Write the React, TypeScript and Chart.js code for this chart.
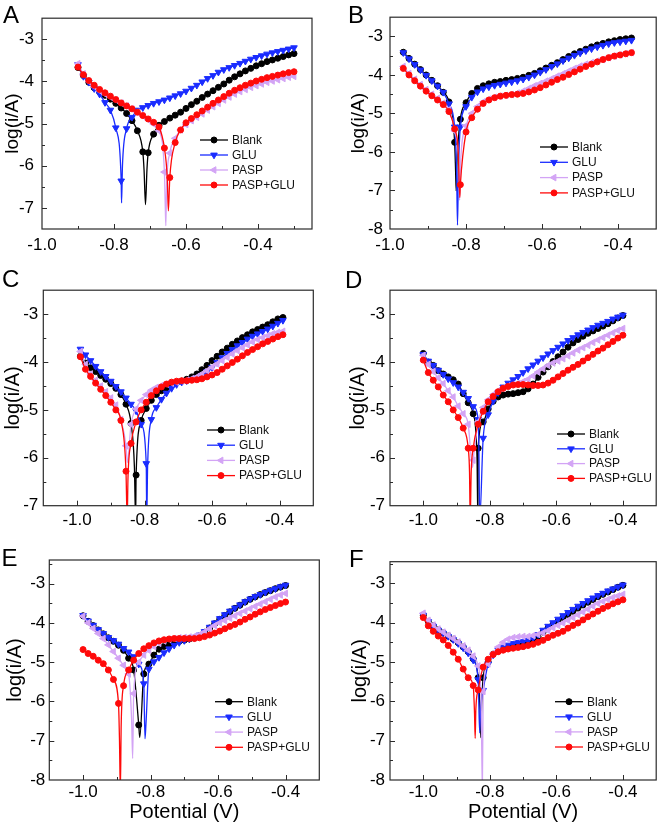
import React, { useEffect, useRef } from 'react';
import { Chart, registerables } from 'chart.js';

Chart.register(...registerables);

const FONT = "'Liberation Sans', Arial, Helvetica, sans-serif";

// ---------- series ----------
const seriesNames = ['Blank', 'GLU', 'PASP', 'PASP+GLU'];
const seriesColors = ['#000000', '#1a2cff', '#d3a4f5', '#ff0a0a'];

// ---------- Panel A ----------
const potA = [-0.900,-0.885,-0.870,-0.855,-0.840,-0.825,-0.810,-0.795,-0.780,-0.765,-0.750,-0.735,-0.720,-0.705,-0.690,-0.675,-0.660,-0.645,-0.630,-0.615,-0.600,-0.585,-0.570,-0.555,-0.540,-0.525,-0.510,-0.495,-0.480,-0.465,-0.450,-0.435,-0.420,-0.405,-0.390,-0.375,-0.360,-0.345,-0.330,-0.315,-0.300];
const blankA = [-3.67,-3.86,-4.02,-4.15,-4.25,-4.33,-4.42,-4.52,-4.63,-4.76,-4.93,-5.17,-5.67,-5.69,-5.25,-5.04,-4.95,-4.87,-4.80,-4.73,-4.64,-4.55,-4.47,-4.38,-4.30,-4.22,-4.14,-4.06,-3.97,-3.89,-3.82,-3.75,-3.69,-3.63,-3.58,-3.53,-3.49,-3.45,-3.41,-3.37,-3.34];
const gluA = [-3.60,-3.88,-4.02,-4.17,-4.30,-4.50,-4.68,-5.10,-6.36,-5.12,-4.85,-4.68,-4.62,-4.57,-4.52,-4.48,-4.44,-4.39,-4.34,-4.29,-4.23,-4.16,-4.09,-4.01,-3.93,-3.86,-3.78,-3.72,-3.67,-3.62,-3.57,-3.52,-3.47,-3.43,-3.39,-3.35,-3.32,-3.29,-3.26,-3.23,-3.20];
const paspA = [-3.58,-3.82,-4.00,-4.12,-4.22,-4.30,-4.37,-4.44,-4.51,-4.58,-4.65,-4.73,-4.82,-4.91,-5.01,-5.17,-6.15,-5.70,-5.35,-5.15,-5.02,-4.93,-4.85,-4.77,-4.68,-4.60,-4.52,-4.44,-4.37,-4.30,-4.24,-4.19,-4.14,-4.10,-4.06,-4.02,-3.99,-3.96,-3.93,-3.90,-3.88];
const paspGluA = [-3.66,-3.84,-3.98,-4.09,-4.19,-4.27,-4.35,-4.43,-4.51,-4.58,-4.65,-4.73,-4.81,-4.89,-4.97,-5.08,-5.58,-6.28,-5.45,-5.15,-4.98,-4.88,-4.79,-4.70,-4.61,-4.52,-4.44,-4.36,-4.28,-4.21,-4.15,-4.09,-4.04,-3.99,-3.95,-3.91,-3.88,-3.85,-3.82,-3.79,-3.77];
const blankADip = [[-0.7165,-6.1],[-0.7125,-6.92],[-0.7085,-6.1]];
const gluADip = [[-0.7790,-6.88],[-0.7765,-6.0]];
const paspADip = [[-0.6575,-7.0],[-0.6560,-7.42],[-0.6540,-6.5]];
const paspGluADip = [[-0.6520,-6.3],[-0.6490,-7.07]];
const xTicksA = [-1.0,-0.8,-0.6,-0.4];
const yTicksA = [-3,-4,-5,-6,-7];

// ---------- Panel B ----------
const potB = [-0.965,-0.950,-0.935,-0.920,-0.905,-0.890,-0.875,-0.860,-0.845,-0.830,-0.815,-0.800,-0.785,-0.770,-0.755,-0.740,-0.725,-0.710,-0.695,-0.680,-0.665,-0.650,-0.635,-0.620,-0.605,-0.590,-0.575,-0.560,-0.545,-0.530,-0.515,-0.500,-0.485,-0.470,-0.455,-0.440,-0.425,-0.410,-0.395,-0.380,-0.365];
const blankB = [-3.41,-3.57,-3.72,-3.86,-4.00,-4.14,-4.28,-4.45,-4.70,-5.75,-5.15,-4.72,-4.48,-4.35,-4.28,-4.23,-4.19,-4.17,-4.14,-4.12,-4.09,-4.06,-4.01,-3.96,-3.89,-3.82,-3.75,-3.68,-3.60,-3.52,-3.45,-3.39,-3.33,-3.27,-3.22,-3.18,-3.14,-3.11,-3.08,-3.06,-3.04];
const gluB = [-3.42,-3.58,-3.73,-3.87,-4.01,-4.15,-4.29,-4.45,-4.75,-5.35,-5.35,-4.82,-4.58,-4.44,-4.36,-4.31,-4.27,-4.24,-4.21,-4.18,-4.15,-4.11,-4.06,-4.00,-3.93,-3.86,-3.78,-3.71,-3.63,-3.56,-3.49,-3.43,-3.37,-3.32,-3.27,-3.23,-3.19,-3.16,-3.14,-3.12,-3.10];
const paspB = [-3.78,-3.96,-4.11,-4.25,-4.38,-4.50,-4.61,-4.73,-4.90,-5.45,null,-5.32,-5.00,-4.82,-4.70,-4.63,-4.58,-4.55,-4.53,-4.51,-4.47,-4.42,-4.35,-4.28,-4.22,-4.16,-4.10,-4.03,-3.97,-3.90,-3.83,-3.77,-3.72,-3.68,-3.64,-3.60,-3.55,-3.51,-3.48,-3.45,-3.42];
const paspGluB = [-3.83,-4.00,-4.15,-4.29,-4.42,-4.54,-4.65,-4.77,-4.95,-5.40,-6.85,-5.48,-5.11,-4.89,-4.74,-4.65,-4.59,-4.55,-4.53,-4.51,-4.50,-4.48,-4.44,-4.39,-4.33,-4.26,-4.19,-4.12,-4.06,-3.99,-3.92,-3.85,-3.78,-3.72,-3.66,-3.60,-3.55,-3.51,-3.48,-3.45,-3.42];
const blankBDip = [[-0.8275,-6.5],[-0.8260,-7.01],[-0.8240,-6.3]];
const gluBDip = [[-0.8250,-6.4],[-0.8225,-7.9],[-0.8200,-6.5]];
const paspBDip = [[-0.8195,-6.3],[-0.8170,-7.25],[-0.8145,-6.3]];
const paspGluBDip = [[-0.8205,-6.0],[-0.8165,-7.18]];
const xTicksB = [-1.0,-0.8,-0.6,-0.4];
const yTicksB = [-3,-4,-5,-6,-7,-8];

// ---------- Panel C ----------
const potC = [-0.990,-0.975,-0.960,-0.945,-0.930,-0.915,-0.900,-0.885,-0.870,-0.855,-0.840,-0.825,-0.810,-0.795,-0.780,-0.765,-0.750,-0.735,-0.720,-0.705,-0.690,-0.675,-0.660,-0.645,-0.630,-0.615,-0.600,-0.585,-0.570,-0.555,-0.540,-0.525,-0.510,-0.495,-0.480,-0.465,-0.450,-0.435,-0.420,-0.405,-0.390];
const blankC = [-3.88,-4.02,-4.12,-4.20,-4.28,-4.36,-4.45,-4.55,-4.68,-4.88,-5.28,-6.36,-5.22,-4.97,-4.80,-4.68,-4.60,-4.54,-4.48,-4.43,-4.40,-4.36,-4.31,-4.25,-4.16,-4.07,-3.97,-3.88,-3.79,-3.71,-3.63,-3.56,-3.49,-3.43,-3.37,-3.32,-3.27,-3.22,-3.16,-3.10,-3.07];
const gluC = [-3.73,-3.85,-3.97,-4.09,-4.20,-4.30,-4.40,-4.51,-4.62,-4.75,-4.88,-5.02,-5.30,-6.12,-5.20,-4.95,-4.78,-4.65,-4.55,-4.47,-4.42,-4.39,-4.36,-4.33,-4.28,-4.20,-4.11,-4.01,-3.91,-3.82,-3.74,-3.66,-3.59,-3.52,-3.46,-3.41,-3.36,-3.31,-3.25,-3.19,-3.13];
const paspC = [-3.78,-4.05,-4.25,-4.38,-4.50,-4.62,-4.75,-4.90,-5.20,-5.75,-5.30,-4.98,-4.80,-4.68,-4.59,-4.53,-4.49,-4.46,-4.44,-4.42,-4.40,-4.38,-4.35,-4.31,-4.25,-4.18,-4.11,-4.04,-3.97,-3.90,-3.83,-3.76,-3.70,-3.64,-3.58,-3.53,-3.49,-3.45,-3.41,-3.38,-3.36];
const paspGluC = [-3.89,-4.15,-4.30,-4.44,-4.57,-4.70,-4.84,-5.00,-5.22,-6.28,-5.70,-5.25,-5.00,-4.84,-4.70,-4.60,-4.52,-4.46,-4.42,-4.40,-4.39,-4.39,-4.38,-4.37,-4.35,-4.31,-4.27,-4.22,-4.15,-4.08,-4.01,-3.94,-3.87,-3.80,-3.74,-3.68,-3.62,-3.57,-3.52,-3.47,-3.43];
const blankCDip = [[-0.8300,-6.2],[-0.8265,-7.3]];
const gluCDip = [[-0.7935,-7.3],[-0.7910,-6.2]];
const paspCDip = [[-0.8510,-6.1]];
const paspGluCDip = [[-0.8515,-7.3],[-0.8490,-6.4]];
const xTicksC = [-1.0,-0.8,-0.6,-0.4];
const yTicksC = [-3,-4,-5,-6,-7];

// ---------- Panels D, E, F share the potential grid ----------
const potDEF = [-1.000,-0.985,-0.970,-0.955,-0.940,-0.925,-0.910,-0.895,-0.880,-0.865,-0.850,-0.835,-0.820,-0.805,-0.790,-0.775,-0.760,-0.745,-0.730,-0.715,-0.700,-0.685,-0.670,-0.655,-0.640,-0.625,-0.610,-0.595,-0.580,-0.565,-0.550,-0.535,-0.520,-0.505,-0.490,-0.475,-0.460,-0.445,-0.430,-0.415,-0.400];

// ---------- Panel D ----------
const blankD = [-3.82,-4.00,-4.07,-4.18,-4.25,-4.31,-4.37,-4.46,-4.66,-4.85,-5.08,-5.80,-5.25,-4.98,-4.82,-4.73,-4.69,-4.67,-4.66,-4.64,-4.62,-4.56,-4.46,-4.32,-4.21,-4.10,-3.99,-3.89,-3.79,-3.69,-3.60,-3.53,-3.46,-3.40,-3.35,-3.30,-3.25,-3.20,-3.14,-3.08,-3.03];
const gluD = [-3.84,-3.98,-4.07,-4.17,-4.26,-4.35,-4.43,-4.52,-4.63,-4.76,-4.93,-5.20,-5.59,-5.10,-4.82,-4.64,-4.52,-4.44,-4.37,-4.30,-4.22,-4.14,-4.06,-3.98,-3.91,-3.83,-3.76,-3.69,-3.62,-3.55,-3.49,-3.43,-3.38,-3.33,-3.28,-3.23,-3.19,-3.15,-3.10,-3.06,-3.02];
const paspD = [-3.86,-4.05,-4.20,-4.33,-4.45,-4.60,-4.73,-4.92,-5.08,-5.30,-6.05,-5.25,-4.95,-4.79,-4.68,-4.60,-4.54,-4.50,-4.47,-4.45,-4.41,-4.36,-4.29,-4.21,-4.14,-4.07,-4.02,-3.98,-3.93,-3.87,-3.81,-3.75,-3.70,-3.65,-3.59,-3.54,-3.49,-3.44,-3.39,-3.34,-3.30];
const paspGluD = [-3.96,-4.22,-4.38,-4.52,-4.69,-4.83,-5.00,-5.16,-5.38,-5.80,-5.80,-5.30,-5.03,-4.83,-4.72,-4.62,-4.55,-4.51,-4.48,-4.47,-4.47,-4.48,-4.49,-4.49,-4.48,-4.44,-4.38,-4.31,-4.24,-4.17,-4.11,-4.05,-3.98,-3.91,-3.84,-3.77,-3.71,-3.64,-3.57,-3.50,-3.44];
const blankDDip = [[-0.8385,-6.0],[-0.8360,-7.3]];
const gluDDip = [[-0.8325,-6.0],[-0.8305,-7.3]];
const paspDDip = [[-0.8520,-6.2]];
const paspGluDDip = [[-0.8610,-6.3],[-0.8590,-7.3],[-0.8560,-6.3]];
const xTicksD = [-1.0,-0.8,-0.6,-0.4];
const yTicksD = [-3,-4,-5,-6,-7];

// ---------- Panel E ----------
const blankE = [-3.82,-3.96,-4.07,-4.18,-4.28,-4.38,-4.47,-4.57,-4.70,-4.90,-5.20,-6.60,-5.30,-5.05,-4.82,-4.67,-4.60,-4.55,-4.51,-4.47,-4.44,-4.41,-4.38,-4.33,-4.24,-4.13,-4.02,-3.91,-3.81,-3.72,-3.63,-3.55,-3.47,-3.40,-3.34,-3.28,-3.23,-3.18,-3.13,-3.09,-3.05];
const gluE = [-3.81,-3.95,-4.06,-4.17,-4.27,-4.37,-4.45,-4.54,-4.65,-4.74,-4.86,-5.05,-5.55,-5.18,-4.99,-4.88,-4.76,-4.66,-4.57,-4.50,-4.45,-4.41,-4.37,-4.31,-4.22,-4.11,-4.00,-3.89,-3.79,-3.70,-3.62,-3.54,-3.46,-3.39,-3.33,-3.28,-3.22,-3.17,-3.13,-3.08,-3.04];
const paspE = [-3.83,-4.00,-4.14,-4.27,-4.40,-4.56,-4.73,-4.90,-5.08,-5.30,-5.80,-5.00,-4.82,-4.70,-4.60,-4.52,-4.46,-4.42,-4.40,-4.38,-4.37,-4.36,-4.34,-4.30,-4.23,-4.15,-4.07,-4.00,-3.94,-3.88,-3.82,-3.76,-3.70,-3.64,-3.58,-3.52,-3.46,-3.40,-3.34,-3.29,-3.25];
const paspGluE = [-4.68,-4.78,-4.85,-4.95,-5.04,-5.20,-5.44,-6.05,-5.60,-5.20,-4.95,-4.78,-4.66,-4.58,-4.51,-4.46,-4.43,-4.41,-4.40,-4.40,-4.40,-4.40,-4.40,-4.38,-4.35,-4.31,-4.26,-4.21,-4.15,-4.09,-4.04,-3.98,-3.91,-3.85,-3.78,-3.72,-3.66,-3.61,-3.56,-3.51,-3.47];
const blankEDip = [[-0.8320,-6.92]];
const gluEDip = [[-0.8165,-6.95],[-0.8135,-6.56]];
const paspEDip = [[-0.8560,-6.5],[-0.8530,-7.45]];
const paspGluEDip = [[-0.8920,-7.0],[-0.8895,-8.3],[-0.8870,-6.6]];
const xTicksE = [-1.0,-0.8,-0.6,-0.4];
const yTicksE = [-3,-4,-5,-6,-7,-8];

// ---------- Panel F ----------
const blankF = [-3.81,-3.97,-4.08,-4.18,-4.26,-4.34,-4.42,-4.51,-4.62,-4.74,-4.92,-5.40,-5.40,-5.00,-4.80,-4.72,-4.67,-4.64,-4.61,-4.59,-4.57,-4.54,-4.47,-4.36,-4.24,-4.13,-4.04,-3.96,-3.87,-3.79,-3.71,-3.63,-3.55,-3.48,-3.41,-3.34,-3.28,-3.22,-3.16,-3.10,-3.05];
const gluF = [-3.81,-3.97,-4.09,-4.19,-4.27,-4.35,-4.43,-4.53,-4.64,-4.77,-4.95,-5.45,-5.72,-5.05,-4.82,-4.70,-4.62,-4.57,-4.53,-4.50,-4.48,-4.45,-4.39,-4.30,-4.19,-4.09,-4.00,-3.91,-3.82,-3.74,-3.66,-3.58,-3.51,-3.44,-3.37,-3.31,-3.25,-3.19,-3.14,-3.09,-3.04];
const paspF = [-3.76,-3.94,-4.06,-4.16,-4.24,-4.32,-4.40,-4.49,-4.59,-4.70,-4.85,-5.10,-5.75,-5.05,-4.78,-4.62,-4.50,-4.42,-4.38,-4.36,-4.35,-4.35,-4.33,-4.30,-4.26,-4.20,-4.13,-4.07,-4.01,-3.94,-3.87,-3.80,-3.73,-3.66,-3.58,-3.51,-3.46,-3.41,-3.36,-3.32,-3.28];
const paspGluF = [-3.87,-4.08,-4.22,-4.34,-4.44,-4.58,-4.75,-4.93,-5.18,-5.40,-5.60,-5.71,-5.13,-4.93,-4.81,-4.74,-4.70,-4.67,-4.65,-4.63,-4.61,-4.58,-4.55,-4.50,-4.45,-4.38,-4.32,-4.27,-4.22,-4.14,-4.07,-4.01,-3.93,-3.85,-3.78,-3.71,-3.64,-3.58,-3.52,-3.47,-3.42];
const blankFDip = [[-0.8295,-6.2],[-0.8270,-6.92],[-0.8245,-6.1]];
const gluFDip = [[-0.8305,-6.8],[-0.8275,-6.2]];
const paspFDip = [[-0.8260,-6.0],[-0.8225,-8.3]];
const paspGluFDip = [[-0.8460,-6.3],[-0.8440,-6.94],[-0.8420,-6.2]];
const xTicksF = [-1.0,-0.8,-0.6,-0.4];
const yTicksF = [-3,-4,-5,-6,-7,-8];

// ---------- styling ----------
const markerStyles = [
  { shape: 'circle', rotation: 0, radius: 3 },
  { shape: 'triangle', rotation: 180, radius: 3.8 },
  { shape: 'triangle', rotation: -90, radius: 3.8 },
  { shape: 'circle', rotation: 0, radius: 3 },
];

type Panel = {
  letter: string;
  left: number; top: number; w: number; h: number;
  padTop: number; padRight: number; yW: number; xH: number;
  xMin: number; xMax: number; yMin: number; yMax: number;
  xTicks: number[]; yTicks: number[];
  pot: number[];
  series: { vals: (number | null)[]; dip: number[][] }[];
  yTitleSize: number; yTitlePad: number; yTickPad: number; xTickPad: number;
  xTitle: boolean; xTitlePad: number;
  legend: { x: number; y: number; dy: number };
  letterPos: { left: number; top: number };
};

const panels: Panel[] = [
  {
    letter: 'A', left: 0, top: 0, w: 330, h: 275, padTop: 13, padRight: 18, yW: 42, xH: 46,
    xMin: -1.0, xMax: -0.25, yMin: -7.5, yMax: -2.5, xTicks: xTicksA, yTicks: yTicksA, pot: potA,
    series: [{ vals: blankA, dip: blankADip }, { vals: gluA, dip: gluADip }, { vals: paspA, dip: paspADip }, { vals: paspGluA, dip: paspGluADip }],
    yTitleSize: 19, yTitlePad: 1, yTickPad: 8, xTickPad: 6, xTitle: false, xTitlePad: 0,
    legend: { x: 200, y: 140, dy: 15 }, letterPos: { left: 3, top: 3 },
  },
  {
    letter: 'B', left: 330, top: 0, w: 331, h: 275, padTop: 13, padRight: 1, yW: 60, xH: 46,
    xMin: -1.0, xMax: -0.3, yMin: -8, yMax: -2.5, xTicks: xTicksB, yTicks: yTicksB, pot: potB,
    series: [{ vals: blankB, dip: blankBDip }, { vals: gluB, dip: gluBDip }, { vals: paspB, dip: paspBDip }, { vals: paspGluB, dip: paspGluBDip }],
    yTitleSize: 19, yTitlePad: 17, yTickPad: 7, xTickPad: 6, xTitle: false, xTitlePad: 0,
    legend: { x: 210, y: 147, dy: 15.3 }, letterPos: { left: 348, top: 3 },
  },
  {
    letter: 'C', left: 0, top: 275, w: 330, h: 270, padTop: 15, padRight: 16.7, yW: 43.3, xH: 39.3,
    xMin: -1.1, xMax: -0.3, yMin: -7, yMax: -2.5, xTicks: xTicksC, yTicks: yTicksC, pot: potC,
    series: [{ vals: blankC, dip: blankCDip }, { vals: gluC, dip: gluCDip }, { vals: paspC, dip: paspCDip }, { vals: paspGluC, dip: paspGluCDip }],
    yTitleSize: 20, yTitlePad: 1.3, yTickPad: 5, xTickPad: 4.5, xTitle: false, xTitlePad: 0,
    legend: { x: 207, y: 155, dy: 15.2 }, letterPos: { left: 2, top: 267 },
  },
  {
    letter: 'D', left: 330, top: 275, w: 331, h: 270, padTop: 15, padRight: 1, yW: 60, xH: 39.3,
    xMin: -1.1, xMax: -0.3, yMin: -7, yMax: -2.5, xTicks: xTicksD, yTicks: yTicksD, pot: potDEF,
    series: [{ vals: blankD, dip: blankDDip }, { vals: gluD, dip: gluDDip }, { vals: paspD, dip: paspDDip }, { vals: paspGluD, dip: paspGluDDip }],
    yTitleSize: 20, yTitlePad: 16.3, yTickPad: 5, xTickPad: 4.5, xTitle: false, xTitlePad: 0,
    legend: { x: 227, y: 159, dy: 14.8 }, letterPos: { left: 345, top: 268 },
  },
  {
    letter: 'E', left: 0, top: 545, w: 330, h: 281, padTop: 15, padRight: 10.7, yW: 49.3, xH: 46,
    xMin: -1.1, xMax: -0.3, yMin: -8, yMax: -2.4, xTicks: xTicksE, yTicks: yTicksE, pot: potDEF,
    series: [{ vals: blankE, dip: blankEDip }, { vals: gluE, dip: gluEDip }, { vals: paspE, dip: paspEDip }, { vals: paspGluE, dip: paspGluEDip }],
    yTitleSize: 20, yTitlePad: 3, yTickPad: 4, xTickPad: 2.5, xTitle: true, xTitlePad: 1.5,
    legend: { x: 215, y: 156.7, dy: 15.2 }, letterPos: { left: 1.5, top: 546 },
  },
  {
    letter: 'F', left: 330, top: 545, w: 331, h: 281, padTop: 16.7, padRight: 1, yW: 60, xH: 46,
    xMin: -1.1, xMax: -0.3, yMin: -8, yMax: -2.45, xTicks: xTicksF, yTicks: yTicksF, pot: potDEF,
    series: [{ vals: blankF, dip: blankFDip }, { vals: gluF, dip: gluFDip }, { vals: paspF, dip: paspFDip }, { vals: paspGluF, dip: paspGluFDip }],
    yTitleSize: 20, yTitlePad: 18, yTickPad: 5, xTickPad: 2.5, xTitle: true, xTitlePad: 1.5,
    legend: { x: 225, y: 156.7, dy: 15.1 }, letterPos: { left: 349, top: 547 },
  },
];

function buildPoints(pot: number[], vals: (number | null)[], dip: number[][]) {
  const pts: { x: number; y: number; m: boolean }[] = [];
  vals.forEach((v, i) => {
    if (v !== null && i < pot.length) pts.push({ x: pot[i], y: v, m: true });
  });
  dip.forEach(([x, y]) => pts.push({ x, y, m: false }));
  pts.sort((a, b) => a.x - b.x);
  return pts;
}

function drawMarker(ctx: CanvasRenderingContext2D, idx: number, x: number, y: number) {
  const st = markerStyles[idx];
  const color = seriesColors[idx];
  ctx.save();
  ctx.fillStyle = color;
  ctx.strokeStyle = color;
  ctx.lineWidth = 1;
  ctx.beginPath();
  if (st.shape === 'circle') {
    ctx.arc(x, y, st.radius, 0, Math.PI * 2);
  } else {
    let rad = (st.rotation * Math.PI) / 180;
    for (let k = 0; k < 3; k++) {
      const px = x + Math.sin(rad) * st.radius;
      const py = y - Math.cos(rad) * st.radius;
      if (k === 0) ctx.moveTo(px, py); else ctx.lineTo(px, py);
      rad += (2 * Math.PI) / 3;
    }
    ctx.closePath();
  }
  ctx.fill();
  ctx.stroke();
  ctx.restore();
}

const frameTicksPlugin = {
  id: 'frameTicks',
  afterDatasetsDraw(chart: any) {
    const { ctx, chartArea: a, scales } = chart;
    const xs = scales.x;
    const ys = scales.y;
    ctx.save();
    ctx.strokeStyle = '#2b2b2b';
    ctx.lineWidth = 1;
    ctx.beginPath();
    const kx0 = Math.ceil(xs.min * 10 - 1e-6);
    const kx1 = Math.floor(xs.max * 10 + 1e-6);
    for (let k = kx0; k <= kx1; k++) {
      const px = Math.round(xs.getPixelForValue(k / 10)) + 0.5;
      if (px < a.left + 1.5 || px > a.right - 1.5) continue;
      const len = Math.abs(k) % 2 === 0 ? 5 : 3;
      ctx.moveTo(px, a.bottom);
      ctx.lineTo(px, a.bottom - len);
    }
    const ky0 = Math.ceil(ys.min * 2 - 1e-6);
    const ky1 = Math.floor(ys.max * 2 + 1e-6);
    for (let k = ky0; k <= ky1; k++) {
      const py = Math.round(ys.getPixelForValue(k / 2)) + 0.5;
      if (py < a.top + 1.5 || py > a.bottom - 1.5) continue;
      const len = Math.abs(k) % 2 === 0 ? 5 : 3;
      ctx.moveTo(a.left, py);
      ctx.lineTo(a.left + len, py);
    }
    ctx.stroke();
    ctx.lineWidth = 1.2;
    ctx.strokeRect(a.left, a.top, a.right - a.left, a.bottom - a.top);
    ctx.restore();
  },
};

function makeLegendPlugin(pos: { x: number; y: number; dy: number }) {
  return {
    id: 'tafelLegend',
    afterDraw(chart: any) {
      const ctx: CanvasRenderingContext2D = chart.ctx;
      ctx.save();
      ctx.font = `12px ${FONT}`;
      ctx.textBaseline = 'middle';
      ctx.textAlign = 'left';
      chart.data.datasets.forEach((ds: any, i: number) => {
        const y = pos.y + i * pos.dy;
        ctx.strokeStyle = seriesColors[i];
        ctx.lineWidth = 1.3;
        ctx.beginPath();
        ctx.moveTo(pos.x, y);
        ctx.lineTo(pos.x + 28, y);
        ctx.stroke();
        drawMarker(ctx, i, pos.x + 14, y);
        ctx.fillStyle = '#111';
        ctx.fillText(ds.label, pos.x + 32, y + 0.5);
      });
      ctx.restore();
    },
  };
}

function TafelPanel({ cfg }: { cfg: Panel }) {
  const ref = useRef<HTMLCanvasElement>(null);
  useEffect(() => {
    const canvas = ref.current;
    if (!canvas) return;
    const datasets = cfg.series.map((s, i) => ({
      label: seriesNames[i],
      data: buildPoints(cfg.pot, s.vals, s.dip),
      borderColor: seriesColors[i],
      backgroundColor: seriesColors[i],
      borderWidth: 1.3,
      pointStyle: markerStyles[i].shape,
      rotation: markerStyles[i].rotation,
      pointRadius: (ctx: any) => (ctx.raw && ctx.raw.m ? markerStyles[i].radius : 0),
      pointHoverRadius: 0,
      pointBorderWidth: 1,
      pointBorderColor: seriesColors[i],
      pointBackgroundColor: seriesColors[i],
      cubicInterpolationMode: 'monotone' as const,
      fill: false,
      order: 3 - i,
    }));
    const tickFont = { size: 17, family: FONT };
    const chart = new Chart(canvas, {
      type: 'line',
      data: { datasets: datasets as any },
      options: {
        responsive: false,
        animation: false,
        events: [],
        layout: { padding: { left: 0, top: cfg.padTop, right: cfg.padRight, bottom: 0 } },
        plugins: { legend: { display: false }, tooltip: { enabled: false }, title: { display: false } },
        scales: {
          x: {
            type: 'linear',
            min: cfg.xMin,
            max: cfg.xMax,
            grid: { display: false, drawTicks: false },
            border: { display: false },
            afterFit: (s: any) => { s.height = cfg.xH; },
            afterBuildTicks: (s: any) => { s.ticks = cfg.xTicks.map((v) => ({ value: v })); },
            ticks: {
              autoSkip: false, maxRotation: 0, minRotation: 0, padding: cfg.xTickPad, color: '#000', font: tickFont,
              callback: (v: any) => Number(v).toFixed(1),
            },
            title: {
              display: cfg.xTitle, text: 'Potential (V)', color: '#000',
              font: { size: 20, family: FONT }, padding: { top: 0, bottom: cfg.xTitlePad },
            },
          },
          y: {
            type: 'linear',
            min: cfg.yMin,
            max: cfg.yMax,
            grid: { display: false, drawTicks: false },
            border: { display: false },
            afterFit: (s: any) => { s.width = cfg.yW; },
            afterBuildTicks: (s: any) => { s.ticks = cfg.yTicks.map((v) => ({ value: v })); },
            ticks: {
              autoSkip: false, padding: cfg.yTickPad, color: '#000', font: tickFont,
              callback: (v: any) => String(v),
            },
            title: {
              display: true, text: 'log(i/A)', color: '#000',
              font: { size: cfg.yTitleSize, family: FONT }, padding: { top: cfg.yTitlePad, bottom: 0 },
            },
          },
        },
      } as any,
      plugins: [frameTicksPlugin, makeLegendPlugin(cfg.legend)],
    });
    return () => chart.destroy();
  }, [cfg]);
  return (
    <div style={{ position: 'absolute', left: cfg.left, top: cfg.top, width: cfg.w, height: cfg.h }}>
      <canvas ref={ref} width={cfg.w} height={cfg.h} style={{ display: 'block', width: cfg.w, height: cfg.h }} />
    </div>
  );
}

export default function App() {
  return (
    <div style={{ position: 'absolute', left: 0, top: 0, width: 661, height: 826, background: '#fff', overflow: 'hidden' }}>
      {panels.map((p) => (
        <TafelPanel key={p.letter} cfg={p} />
      ))}
      {panels.map((p) => (
        <div
          key={'L' + p.letter}
          style={{
            position: 'absolute', left: p.letterPos.left, top: p.letterPos.top,
            fontFamily: FONT, fontSize: 24, lineHeight: '24px', color: '#000',
          }}
        >
          {p.letter}
        </div>
      ))}
    </div>
  );
}
